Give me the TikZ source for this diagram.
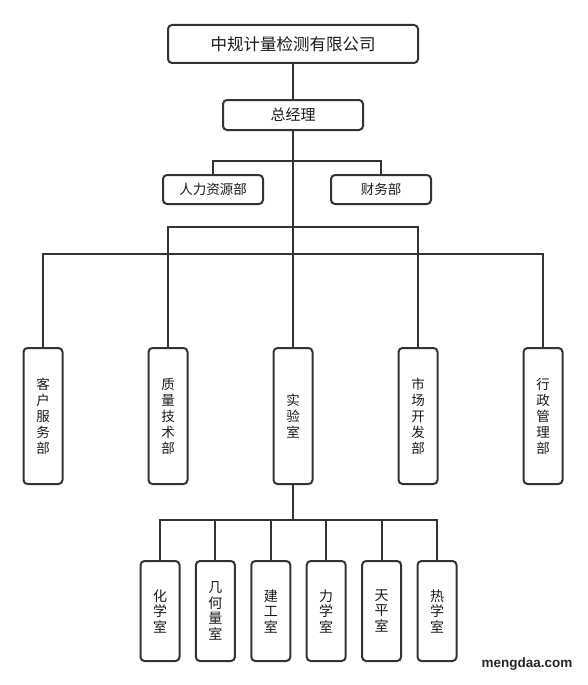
\documentclass[tikz,border=0pt]{standalone}
\usepackage{fontspec}
\newfontfamily\cjk{Noto Sans CJK SC}
\newfontfamily\wmfont{Liberation Sans}
\usepackage{tikz}
\usetikzlibrary{positioning}

\begin{document}
\begin{tikzpicture}[x=1pt, y=1pt, node distance=20pt, align=center, line width=2pt]
        % Define colors
        \definecolor{linegray}{HTML}{333333}
        \definecolor{textgray}{HTML}{1A1A1A}
        \tikzset{
            box/.style={draw=linegray, rounded corners=4pt, text=textgray, inner sep=0pt, font=\cjk\fontsize{13.5}{16}\selectfont},
            deptbox/.style={box, minimum width=39pt, minimum height=136pt},
            labbox/.style={box, minimum width=39pt, minimum height=100pt, font=\cjk\fontsize{14}{15.5}\selectfont},
            link/.style={draw=linegray, line width=2pt}
        }
        \useasboundingbox (0,0) rectangle (587,-685);

        % Nodes
        \node[box, minimum width=250pt, minimum height=38pt, font=\cjk\fontsize{16.5}{18}\selectfont] (company) at (293,-44) {中规计量检测有限公司};
        \node[box, minimum width=140pt, minimum height=30pt, font=\cjk\fontsize{15}{17}\selectfont, below=35pt of company] (gm) {总经理};
        \node[box, minimum width=100pt, minimum height=29pt] (hr) at (213,-189.5) {人力资源部};
        \node[box, minimum width=100pt, minimum height=29pt] (finance) at (381,-189.5) {财务部};

        \node[deptbox, below=216pt of gm] (lab) {实\\验\\室};
        \node[deptbox, left=84pt of lab] (quality) {质\\量\\技\\术\\部};
        \node[deptbox, left=84pt of quality] (service) {客\\户\\服\\务\\部};
        \node[deptbox, right=84pt of lab] (market) {市\\场\\开\\发\\部};
        \node[deptbox, right=84pt of market] (admin) {行\\政\\管\\理\\部};

        \node[labbox] (room1) at (160,-611) {化\\学\\室};
        \node[labbox, right=14.4pt of room1] (room2) {几\\何\\量\\室};
        \node[labbox, right=14.4pt of room2] (room3) {建\\工\\室};
        \node[labbox, right=14.4pt of room3] (room4) {力\\学\\室};
        \node[labbox, right=14.4pt of room4] (room5) {天\\平\\室};
        \node[labbox, right=14.4pt of room5] (room6) {热\\学\\室};

        \node[text=black!85, font=\wmfont\bfseries\fontsize{13.5}{15}\selectfont] (mark) at (527,-664) {mengdaa.com};

        % Junctions
        \coordinate (split1) at (293,-161);
        \coordinate (split2) at (293,-227);
        \coordinate (split3) at (293,-254);
        \coordinate (split4) at (293,-520);

        % Edges
        \draw[link] (company) -- (gm);
        \draw[link] (gm) -- (split2);
        \draw[link] (split1) -| (hr);
        \draw[link] (split1) -| (finance);
        \draw[link] (split2) -| (quality);
        \draw[link] (split2) -| (market);
        \draw[link] (split2) -- (lab);
        \draw[link] (split3) -| (service);
        \draw[link] (split3) -| (admin);
        \draw[link] (lab) -- (split4);
        \foreach \i in {1,...,6} {
            \draw[link] (split4) -| (room\i);
        }
    \end{tikzpicture}
\end{document}
